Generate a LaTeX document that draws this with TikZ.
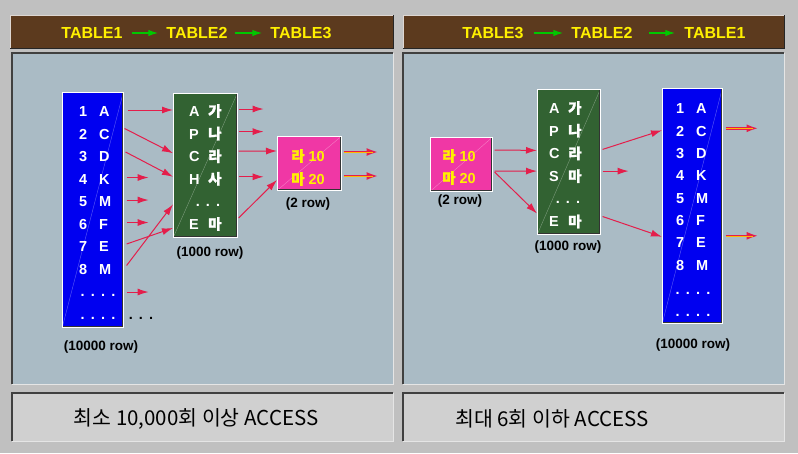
\documentclass[tikz,border=0pt]{standalone}
\usepackage{fontspec}
\setmainfont{Liberation Sans}
\newfontfamily\kr{Noto Sans CJK KR}
\newfontfamily\krb{Noto Sans CJK KR}[FakeBold=1.6]
\usetikzlibrary{arrows.meta,calc}

\definecolor{framegray}{RGB}{192,192,192}
\definecolor{panelblue}{RGB}{170,187,197}
\definecolor{boxgray}{RGB}{208,208,208}
\definecolor{barbrown}{RGB}{92,58,30}
\definecolor{tblue}{RGB}{0,0,240}
\definecolor{tgreen}{RGB}{50,98,50}
\definecolor{tpink}{RGB}{240,55,165}
\definecolor{linkred}{RGB}{228,30,75}
\definecolor{titleyellow}{RGB}{255,240,0}
\definecolor{titlegreen}{RGB}{0,200,0}

\begin{document}
\begin{tikzpicture}[x=1pt, y=-1pt,
	panel/.style={anchor=north west, inner sep=0pt, fill=panelblue},
	notebox/.style={anchor=north west, inner sep=0pt, fill=boxgray},
	hdr/.style={anchor=north west, inner sep=0pt, fill=barbrown},
	tbl/.style={anchor=north west, inner sep=0pt, draw=white, line width=.6pt,
		path picture={
			\draw[white, opacity=.35, line width=.4pt] (path picture bounding box.south west) -- (path picture bounding box.north east);
			\draw[black!80, line width=2pt] (path picture bounding box.north east) -- (path picture bounding box.south east) -- (path picture bounding box.south west);
		}},
	row/.style={text=white, inner sep=0pt, font=\bfseries\fontsize{14.5}{14.5}\selectfont},
	pinkrow/.style={text=titleyellow, inner sep=0pt, font=\bfseries\fontsize{14.5}{14.5}\selectfont},
	cnt/.style={text=black, inner sep=0pt, font=\bfseries\fontsize{13.5}{13.5}\selectfont},
	title/.style={text=titleyellow, inner sep=0pt, font=\bfseries\fontsize{16}{16}\selectfont},
	note/.style={text=black, inner sep=0pt, font=\kr\fontsize{20.5}{20.5}\selectfont},
	link/.style={-{Latex[length=11pt, width=7pt]}, linkred, line width=1pt},
	hotlink/.style={-{Latex[length=12pt, width=8pt]}, linkred, line width=2.4pt,
		postaction={draw, -, orange!55!yellow, line width=.9pt, shorten >=6pt, transform canvas={yshift=-.5pt}}},
	hdrarrow/.style={-{Latex[length=10pt, width=6.5pt]}, titlegreen, line width=1.4pt}]

	\path[use as bounding box, fill=framegray] (0,0) rectangle (798,453);

	% headers
	\node[hdr, minimum width=383, minimum height=33] (hdrL) at (10,15) {};
	\node[hdr, minimum width=381, minimum height=33] (hdrR) at (403,15) {};
	\foreach \h in {hdrL, hdrR} {
		\draw[white!80!barbrown, line width=1pt] (\h.south west) |- (\h.north east);
		\draw[black!85, line width=1pt] (\h.north east) |- (\h.south west);
	}
	\node[title] (tl1) at (92,33)  {TABLE1};
	\node[title] (tl2) at (197,33) {TABLE2};
	\node[title] (tl3) at (301,33) {TABLE3};
	\draw[hdrarrow] ([xshift=9]tl1.east) -- ([xshift=-8]tl2.west);
	\draw[hdrarrow] ([xshift=7]tl2.east) -- ([xshift=-8]tl3.west);
	\node[title] (tr3) at (493,33) {TABLE3};
	\node[title] (tr2) at (602,33) {TABLE2};
	\node[title] (tr1) at (715,33) {TABLE1};
	\draw[hdrarrow] ([xshift=10]tr3.east) -- ([xshift=-8]tr2.west);
	\draw[hdrarrow] ([xshift=16]tr2.east) -- ([xshift=-9]tr1.west);

	% panels
	\node[panel, minimum width=381, minimum height=331] (panelL) at (12,53) {};
	\node[panel, minimum width=381, minimum height=331] (panelR) at (403,53) {};
	\node[notebox, minimum width=381, minimum height=48] (boxL) at (12,393) {};
	\node[notebox, minimum width=381, minimum height=48] (boxR) at (403,393) {};
	\foreach \p in {panelL, panelR, boxL, boxR} {
		\draw[white!90!black, line width=1pt] (\p.north east) |- (\p.south west);
		\draw[black!75, line width=1.2pt] (\p.south west) |- (\p.north east);
	}

	% left panel: TABLE1 -> TABLE2 -> TABLE3
	\node[tbl, fill=tblue, minimum width=61, minimum height=235] (blueL) at (62,92) {};
	\node[tbl, fill=tgreen, minimum width=64, minimum height=144] (greenL) at (173,93) {};
	\node[tbl, fill=tpink, minimum width=64, minimum height=54] (pinkL) at (277,136) {};

	\foreach \n/\c [count=\i] in {1/A,2/C,3/D,4/K,5/M,6/F,7/E,8/M}
		\node[row, anchor=west] (bl\i) at (76,{112+22.5*(\i-1)}) {\makebox[11pt][r]{\n}\hspace{12pt}\makebox[14pt][l]{\c}};
	\node[row] (bl9)  at (98,292) {\vphantom{A}.\hspace{6.2pt}.\hspace{6.2pt}.\hspace{6.2pt}.};
	\node[row] (bl10) at (98,314.5) {\vphantom{A}.\hspace{6.2pt}.\hspace{6.2pt}.\hspace{6.2pt}.};
	\node[row, text=black] (moreL) at (141,314.5) {\vphantom{A}.\hspace{6pt}.\hspace{6pt}.};

	\foreach \a/\b [count=\i] in {A/가,P/나,C/라,H/사}
		\node[row, anchor=west] (gl\i) at (189,{111+22.6*(\i-1)}) {\makebox[19pt][l]{\a}{\krb\b}};
	\node[row] (gl5) at (208,201.4) {\vphantom{A}.\hspace{6pt}.\hspace{6pt}.};
	\node[row, anchor=west] (gl6) at (189,224) {\makebox[19pt][l]{E}{\krb 마}};

	\node[pinkrow] (pl1) at (308,156) {{\krb 라}\hspace{4pt}10};
	\node[pinkrow] (pl2) at (308,179) {{\krb 마}\hspace{4pt}20};

	\node[cnt] (cntBL) at (101,347) {(10000 row)};
	\node[cnt] (cntGL) at (210,253) {(1000 row)};
	\node[cnt] (cntPL) at (308,204) {(2 row)};

	\draw[link] ($(bl1 -| blueL.east)+(4,-2)$) -- ($(bl1 -| greenL.west)+(0,-2)$);
	\draw[link] ($(bl2 -| blueL.east)+(1,-6)$) -- ($(gl3 -| greenL.west)+(0,-3)$);
	\draw[link] ($(bl3 -| blueL.east)+(2,-5)$) -- ($(gl4 -| greenL.west)+(0,-2)$);
	\foreach \i in {4,5,6}
		\draw[link] ($(bl\i -| blueL.east)+(3,-2)$) -- ++(22,0);
	\draw[link] ($(bl7 -| blueL.east)+(3,-3)$) -- ($(gl6 -| greenL.west)+(0,4)$);
	\draw[link] ($(bl8 -| blueL.east)+(3,-4)$) -- ($(gl5 -| greenL.west)+(0,3)$);
	\draw[link] ($(bl9 -| blueL.east)+(3,0)$) -- ++(22,0);

	\foreach \i in {1,2,4}
		\draw[link] ($(gl\i -| greenL.east)+(1,-2)$) -- ++(25,0);
	\draw[link] ($(gl3 -| greenL.east)+(1,-5)$) -- ($(pl1 -| pinkL.west)+(0,-5)$);
	\draw[link] ($(gl6 -| greenL.east)+(1,-6)$) -- ($(pl2 -| pinkL.west)+(0,1)$);
	\draw[hotlink] ($(pl1 -| pinkL.east)+(2,-4)$) -- ++(35,0);
	\draw[hotlink] ($(pl2 -| pinkL.east)+(2,-3)$) -- ++(35,0);

	% right panel: TABLE3 -> TABLE2 -> TABLE1
	\node[tbl, fill=tpink, minimum width=62, minimum height=54] (pinkR) at (430,137) {};
	\node[tbl, fill=tgreen, minimum width=63, minimum height=145] (greenR) at (537,89) {};
	\node[tbl, fill=tblue, minimum width=60, minimum height=235] (blueR) at (662,88) {};

	\node[pinkrow] (pr1) at (459,156) {{\krb 라}\hspace{4pt}10};
	\node[pinkrow] (pr2) at (459,178) {{\krb 마}\hspace{4pt}20};

	\foreach \a/\b [count=\i] in {A/가,P/나,C/라,S/마}
		\node[row, anchor=west] (gr\i) at (549,{108+22.7*(\i-1)}) {\makebox[19pt][l]{\a}{\krb\b}};
	\node[row] (gr5) at (568,198.8) {\vphantom{A}.\hspace{6pt}.\hspace{6pt}.};
	\node[row, anchor=west] (gr6) at (549,221.5) {\makebox[19pt][l]{E}{\krb 마}};

	\foreach \n/\c [count=\i] in {1/A,2/C,3/D,4/K,5/M,6/F,7/E,8/M}
		\node[row, anchor=west] (br\i) at (673,{109+22.3*(\i-1)}) {\makebox[11pt][r]{\n}\hspace{12pt}\makebox[14pt][l]{\c}};
	\node[row] (br9)  at (693,289.5) {\vphantom{A}.\hspace{6.2pt}.\hspace{6.2pt}.\hspace{6.2pt}.};
	\node[row] (br10) at (693,312) {\vphantom{A}.\hspace{6.2pt}.\hspace{6.2pt}.\hspace{6.2pt}.};

	\node[cnt] (cntPR) at (460,201) {(2 row)};
	\node[cnt] (cntGR) at (568,247) {(1000 row)};
	\node[cnt] (cntBR) at (693,345) {(10000 row)};

	\draw[link] ($(pr1 -| pinkR.east)+(2,-6)$) -- ($(gr3 -| greenR.west)+(0,-3)$);
	\draw[link] ($(pr2 -| pinkR.east)+(2,-7)$) -- ($(gr4 -| greenR.west)+(0,-5)$);
	\draw[link] ($(pr2 -| pinkR.east)+(2,-6)$) -- ($(gr6 -| greenR.west)+(0,-8)$);
	\draw[link] ($(gr3 -| greenR.east)+(2,-4)$) -- ($(br2 -| blueR.west)+(0,-1)$);
	\draw[link] ($(gr4 -| greenR.east)+(2,-5)$) -- ++(26,0);
	\draw[link] ($(gr6 -| greenR.east)+(2,-5)$) -- ($(br7 -| blueR.west)+(0,-6)$);
	\draw[hotlink] ($(br2 -| blueR.east)+(3,-3)$) -- ++(33,0);
	\draw[hotlink] ($(br7 -| blueR.east)+(3,-7)$) -- ++(33,0);

	% access counts
	\node[note] (noteL) at (196,419) {최소 10,000회 이상 ACCESS};
	\node[note] (noteR) at (552,419) {최대 6회 이하 ACCESS};
\end{tikzpicture}
\end{document}
